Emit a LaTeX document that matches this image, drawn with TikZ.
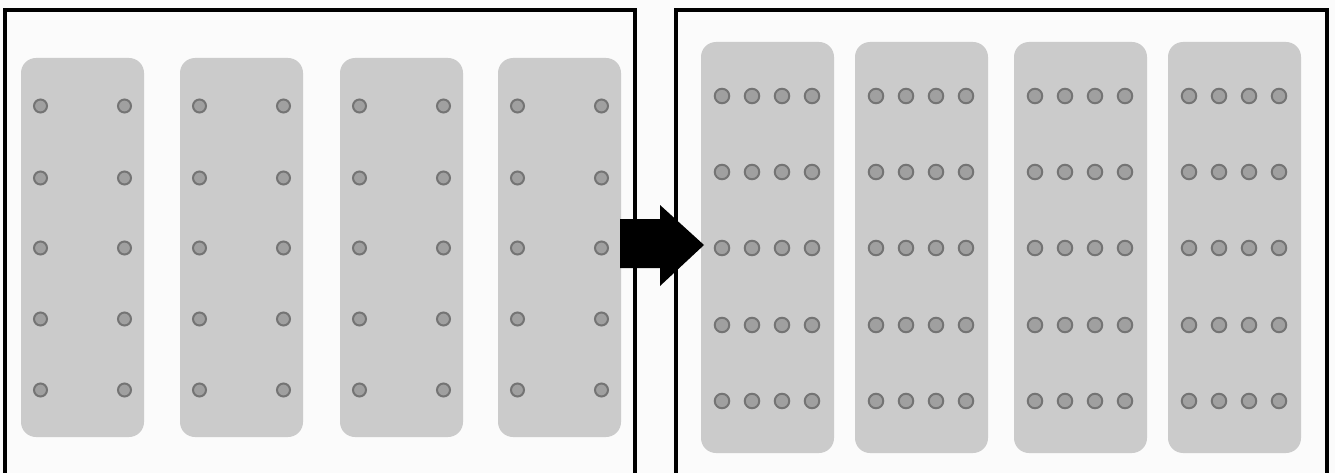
\documentclass[tikz,border=0pt]{standalone}
\begin{document}
\begin{tikzpicture}[x=1pt,y=-1pt,
  panel/.style={line width=3.5pt,draw=black},
  stripbox/.style={fill=stripfill,draw=none,rounded corners=15pt},
  pin/.style={circle,fill=pinfill,draw=pinring,line width=2pt,minimum size=13pt,inner sep=0pt},
  bigpin/.style={pin,minimum size=14.5pt},
  bigarrow/.style={fill=black,draw=none}]
\definecolor{stripfill}{HTML}{CBCBCB}
\definecolor{pinfill}{HTML}{A0A0A0}
\definecolor{pinring}{HTML}{747474}
\definecolor{bgfill}{HTML}{FBFBFB}
\useasboundingbox (0,0) rectangle (1335,473);
\fill[bgfill] (0,0) rectangle (1335,473);
% left panel strips
\foreach \x in {21,180,340,498}{
  \fill[stripbox] (\x,58) rectangle ++(123,379);
  \foreach \y in {106,178,248,319,390}{
    \node[pin] at (\x+19.5,\y) {};
    \node[pin] at (\x+103.5,\y) {};
  }
}
% right panel strips
\foreach \x in {701,855,1014,1168}{
  \fill[stripbox] (\x,42) rectangle ++(133,411);
  \foreach \y in {96,172,248,325,401}{
    \foreach \d in {21,51,81,111}{
      \node[bigpin] at (\x+\d,\y) {};
    }
  }
}
% panel borders
\draw[panel] (5,473) -- (5,10) -- (635,10) -- (635,473);
\draw[panel] (676,473) -- (676,10) -- (1327,10) -- (1327,473);
% block arrow
\fill[bigarrow] (620,219) -- (660,219) -- (660,205) -- (704,245) -- (660,286) -- (660,268) -- (620,268) -- cycle;
\end{tikzpicture}
\end{document}
